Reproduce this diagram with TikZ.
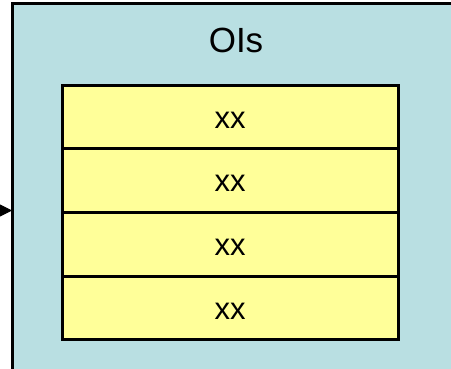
\documentclass[tikz,border=0pt]{standalone}
\usepackage{fontspec}
\setmainfont{Liberation Sans}
\usetikzlibrary{arrows.meta}
\definecolor{panelblue}{HTML}{B9DFE2}
\definecolor{rowyellow}{HTML}{FFFF99}
\begin{document}
\begin{tikzpicture}[x=1pt,y=-1pt,
  panel/.style={draw=black,fill=panelblue,line width=3pt},
  rowbox/.style={draw=black,fill=rowyellow,line width=3pt,minimum width=336pt,minimum height=63.6pt,inner sep=0pt,anchor=north west},
  rowtext/.style={font=\fontsize{31}{36}\selectfont},
  arr/.style={-{Triangle[length=13pt,width=13pt]},line width=1pt}]
\useasboundingbox (0,0) rectangle (451,368);
\clip (0,0) rectangle (451,368);
\fill[white] (0,0) rectangle (451,368);
\draw[panel] (12.5,3.5) rectangle (461,380);
\node[font=\fontsize{35}{40}\selectfont,anchor=base] (title) at (236,52) {OIs};
\foreach \i/\n in {0/r1,1/r2,2/r3,3/r4}{
  \node[rowbox] (\n) at (60.7,{83.7+63.65*\i}) {};
  \node[rowtext,anchor=base] (\n t) at ([yshift=-44.5pt]\n.north) {xx};
}
\coordinate (src) at (-5,210.5);
\draw[arr] (src) -- (12,210.5);
\end{tikzpicture}
\end{document}
